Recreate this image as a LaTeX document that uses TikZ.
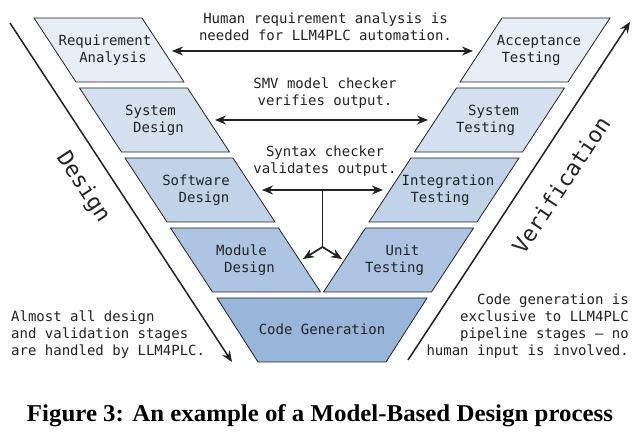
\documentclass[tikz,border=0pt]{standalone}
\usepackage{fontspec}
\setmainfont{Liberation Serif}
\setmonofont{DejaVu Sans Mono}
\usetikzlibrary{arrows.meta}
\definecolor{cA}{HTML}{E7EEF7}
\definecolor{cB}{HTML}{D5E1F0}
\definecolor{cC}{HTML}{C1D3E9}
\definecolor{cD}{HTML}{ADC5E2}
\definecolor{cE}{HTML}{98B6DA}
\definecolor{ink}{HTML}{222222}
\begin{document}
\begin{tikzpicture}[x=1pt,y=-1pt,
  stage/.style={draw=ink, line width=0.8pt},
  lbl/.style={font=\ttfamily\fontsize{14}{17}\selectfont, align=center, text=ink, inner sep=0pt},
  note/.style={font=\ttfamily\fontsize{14}{17}\selectfont, text=ink, inner sep=0pt},
  big/.style={font=\ttfamily\fontsize{22}{26}\selectfont, text=ink, inner sep=0pt},
  conn/.style={line width=1.7pt, draw=ink},
  dbl/.style={conn, {Stealth[length=11pt,width=9pt]}-{Stealth[length=11pt,width=9pt]}},
  sgl/.style={conn, -{Stealth[length=11pt,width=9pt]}}
]
\useasboundingbox (0,0) rectangle (643,435);

% design side
\path[stage, fill=cA] (34,18) -- (142,18) -- (184,82) -- (76,82) -- cycle;
\path[stage, fill=cB] (79.5,88) -- (187.5,88) -- (229.5,152) -- (121.5,152) -- cycle;
\path[stage, fill=cC] (125,158) -- (233,158) -- (275,222) -- (167,222) -- cycle;
\path[stage, fill=cD] (170.5,228) -- (278.5,228) -- (320.5,292) -- (212.5,292) -- cycle;
% verification side
\path[stage, fill=cA] (610,18) -- (502,18) -- (460,82) -- (568,82) -- cycle;
\path[stage, fill=cB] (564.5,88) -- (456.5,88) -- (414.5,152) -- (522.5,152) -- cycle;
\path[stage, fill=cC] (519,158) -- (411,158) -- (369,222) -- (477,222) -- cycle;
\path[stage, fill=cD] (473.5,228) -- (365.5,228) -- (323.5,292) -- (431.5,292) -- cycle;
% code generation
\path[stage, fill=cE] (217,298) -- (427,298) -- (386,362) -- (258,362) -- cycle;

% labels
\node[lbl] (req) at (109,50) {Requirement\hspace*{8pt}\\\hspace*{8pt}Analysis};
\node[lbl] (sysd) at (154.5,120) {System\hspace*{8pt}\\\hspace*{8pt}Design};
\node[lbl] (swd) at (200,190) {Software\hspace*{8pt}\\\hspace*{8pt}Design};
\node[lbl] (modd) at (245.5,260) {Module\hspace*{8pt}\\\hspace*{8pt}Design};
\node[lbl] (acc) at (535,50) {\hspace*{8pt}Acceptance\\Testing\hspace*{8pt}};
\node[lbl] (syst) at (489.5,120) {\hspace*{8pt}System\\Testing\hspace*{8pt}};
\node[lbl] (intt) at (444,190) {\hspace*{8pt}Integration\\Testing\hspace*{8pt}};
\node[lbl] (unit) at (398.5,260) {\hspace*{8pt}Unit\\Testing\hspace*{8pt}};
\node[lbl] (code) at (322,329) {Code Generation};

% annotations
\node[lbl] (n1) at (325.5,27) {Human requirement analysis is\\needed for LLM4PLC automation.};
\node[lbl] (n2) at (325,93) {SMV model checker\\verifies output.};
\node[lbl] (n3) at (325,161.5) {Syntax checker\\validates output.};
\node[note, align=left, anchor=west] (n4) at (11,334.5) {Almost all design\\and validation stages\\are handled by LLM4PLC.};
\node[note, align=right, anchor=east] (n5) at (629,326) {Code generation is\\exclusive to LLM4PLC\\pipeline stages – no\\human input is involved.};

% connectors
\coordinate (a1l) at (172,51); \coordinate (a1r) at (473,51);
\coordinate (a2l) at (215,120); \coordinate (a2r) at (428,120);
\coordinate (a3l) at (262,190); \coordinate (a3r) at (383,190);
\coordinate (a3m) at (322.5,190); \coordinate (fork) at (322.5,247);
\coordinate (fl) at (303,259); \coordinate (fr) at (342,259);
\draw[dbl] (a1l) -- (a1r);
\draw[dbl] (a2l) -- (a2r);
\draw[dbl] (a3l) -- (a3r);
\draw[conn] (a3m) -- (fork);
\draw[sgl] (fork) -- (fl);
\draw[sgl] (fork) -- (fr);

% side axes
\coordinate (ds) at (10,23); \coordinate (de) at (232,362);
\coordinate (vs) at (408,360); \coordinate (ve) at (630,22);
\draw[sgl, line width=1.5pt] (ds) -- (de);
\draw[sgl, line width=1.5pt] (vs) -- (ve);
\node[big, rotate=-56.8] (dlab) at (83,187) {Design};
\node[big, rotate=56.7] (vlab) at (561,185) {Verification};

% caption
\node[anchor=base, inner sep=0pt] (cap) at (320,421.5) {\resizebox{586pt}{17pt}{\bfseries Figure 3: An example of a Model-Based Design process}};
\end{tikzpicture}
\end{document}
